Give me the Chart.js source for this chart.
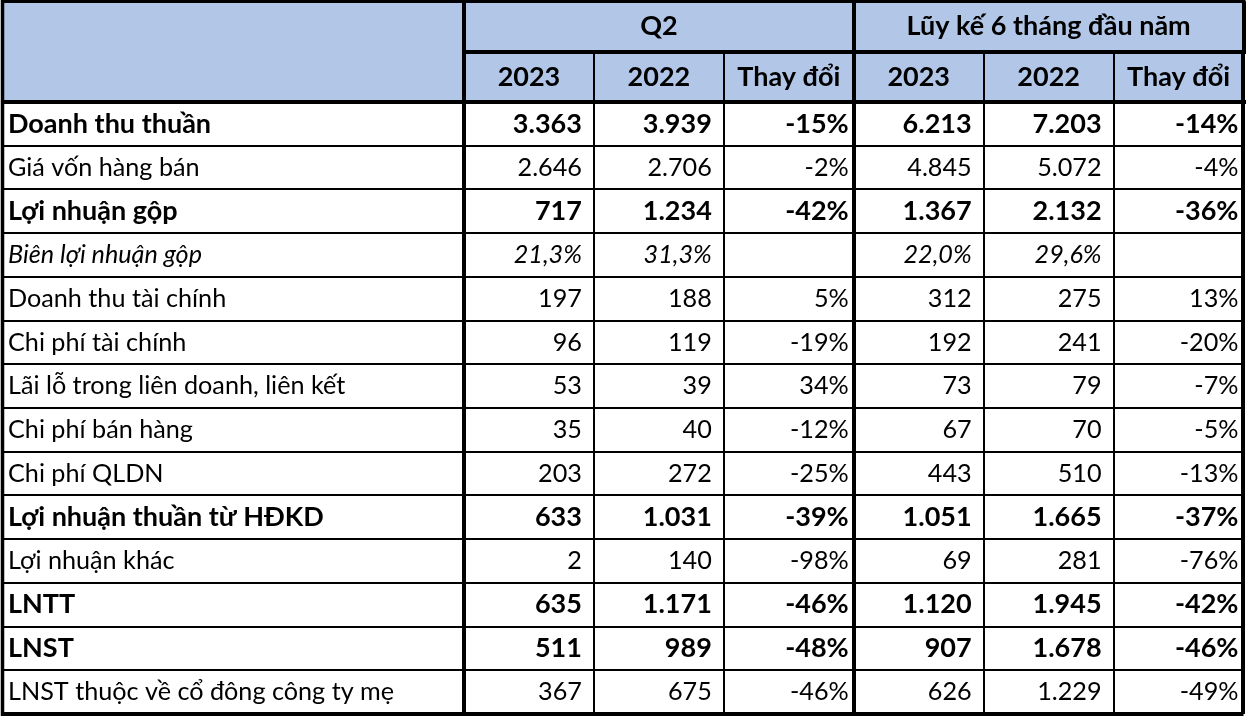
<!DOCTYPE html>
<html>
<head>
<meta charset="utf-8">
<script src="https://cdn.jsdelivr.net/npm/chart.js@4.4.0/dist/chart.umd.min.js"></script>
<style>
  html, body { margin: 0; padding: 0; background: #fff; overflow: hidden; }
  canvas { display: block; }
</style>
</head>
<body>
<canvas id="chart" width="1248" height="718"></canvas>
<script>
const rowLabels = [
    'Doanh thu thuần',
    'Giá vốn hàng bán',
    'Lợi nhuận gộp',
    'Biên lợi nhuận gộp',
    'Doanh thu tài chính',
    'Chi phí tài chính',
    'Lãi lỗ trong liên doanh, liên kết',
    'Chi phí bán hàng',
    'Chi phí QLDN',
    'Lợi nhuận thuần từ HĐKD',
    'Lợi nhuận khác',
    'LNTT',
    'LNST',
    'LNST thuộc về cổ đông công ty mẹ'
];
const boldRows = [0, 2, 9, 11, 12];
const marginRow = 3;

const groupLabels = ['Q2', 'Lũy kế 6 tháng đầu năm'];
const columnLabels = ['2023', '2022', 'Thay đổi', '2023', '2022', 'Thay đổi'];

// tỷ đồng; the margin row is in %
const q2Y2023 = [3363, 2646, 717, 21.3, 197, 96, 53, 35, 203, 633, 2, 635, 511, 367];
const q2Y2022 = [3939, 2706, 1234, 31.3, 188, 119, 39, 40, 272, 1031, 140, 1171, 989, 675];
const q2Change = [-15, -2, -42, null, 5, -19, 34, -12, -25, -39, -98, -46, -48, -46];
const ytdY2023 = [6213, 4845, 1367, 22.0, 312, 192, 73, 67, 443, 1051, 69, 1120, 907, 626];
const ytdY2022 = [7203, 5072, 2132, 29.6, 275, 241, 79, 70, 510, 1665, 281, 1945, 1678, 1229];
const ytdChange = [-14, -4, -36, null, 13, -20, -7, -5, -13, -37, -76, -42, -46, -49];

const columns = [q2Y2023, q2Y2022, q2Change, ytdY2023, ytdY2022, ytdChange];
const changeColumns = [2, 5];

const FONT = 'Lato';
const SIZE = 25.2;
const BOLD_SIZE = 27;
const headerBlue = '#B2C7E8';
const THICK = 4;
const THIN = 2;

function cellFont(r) {
    const bold = boldRows.includes(r);
    const style = r === marginRow ? 'italic ' : '';
    return style + (bold ? 'bold ' + BOLD_SIZE : SIZE) + 'px ' + FONT;
}

function formatCell(v, r, c) {
    if (changeColumns.includes(c)) return v + '%';
    if (r === marginRow) return v.toFixed(1).replace('.', ',') + '%';
    return String(v).replace(/\B(?=(\d{3})+(?!\d))/g, '.');
}

const thickOr = (thickIdx) => (ctx) =>
    (ctx.type !== 'tick' || thickIdx.includes(ctx.index)) ? THICK : THIN;

// fixed axis sizes, no label overflow padding
const fixSize = (w, h) => (s) => {
    if (w) s.width = w;
    if (h) s.height = h;
    s.paddingTop = 0;
    s.paddingBottom = 0;
    s.paddingLeft = 0;
    s.paddingRight = 0;
};

const tableCells = {
    id: 'tableCells',
    beforeDraw(chart) {
        const {ctx, chartArea, scales: {x2, y}} = chart;
        ctx.save();
        ctx.fillStyle = '#fff';
        ctx.fillRect(0, 0, chart.width, chart.height);
        ctx.fillStyle = headerBlue;
        ctx.fillRect(y.left - 6, x2.top - 1, chartArea.right - y.left + 6, chartArea.top - x2.top + 1);
        ctx.restore();
    },
    afterDatasetsDraw(chart) {
        const {ctx, scales: {x}} = chart;
        const half = (x.getPixelForValue(1) - x.getPixelForValue(0)) / 2;
        ctx.save();
        ctx.fillStyle = '#000';
        ctx.textAlign = 'right';
        ctx.textBaseline = 'middle';
        chart.data.datasets.forEach((ds, c) => {
            const pad = changeColumns.includes(c) ? 5 : 12;
            chart.getDatasetMeta(c).data.forEach((pt, r) => {
                const v = columns[c][r];
                if (v === null) return;
                ctx.font = cellFont(r);
                ctx.fillText(formatCell(v, r, c), pt.x + half - pad, pt.y);
            });
        });
        ctx.restore();
    },
    afterDraw(chart) {
        const {ctx, chartArea, scales: {x2, y}} = chart;
        ctx.save();
        ctx.strokeStyle = '#000';
        ctx.lineWidth = 3.5;
        ctx.beginPath();
        ctx.moveTo(y.left - 5.5, chartArea.bottom + 2);
        ctx.lineTo(y.left - 5.5, x2.top);
        ctx.lineTo(chartArea.right + 2, x2.top);
        ctx.stroke();
        ctx.restore();
    }
};

const chart = document.getElementById('chart');

new Chart(chart, {
    type: 'line',
    data: {
        datasets: columns.map((col, c) => ({
            label: columnLabels[c],
            parsing: false,
            data: rowLabels.map((row, r) => ({x: c, y: r})),
            showLine: false,
            pointRadius: 0,
            pointHoverRadius: 0
        }))
    },
    options: {
        responsive: false,
        maintainAspectRatio: false,
        devicePixelRatio: 1,
        animation: false,
        events: [],
        layout: {padding: {left: 8, right: 4.5, top: 1.3, bottom: 4}},
        plugins: {legend: {display: false}, tooltip: {enabled: false}},
        scales: {
            x: {
                type: 'category',
                labels: columnLabels,
                position: 'top',
                weight: 0,
                offset: true,
                afterFit: fixSize(0, 50),
                border: {display: true, width: THICK, color: '#000'},
                grid: {offset: true, color: '#000', lineWidth: thickOr([0, 3]), tickLength: 50},
                ticks: {
                    autoSkip: false, maxRotation: 0, padding: -41.2, color: '#000',
                    font: {family: FONT, size: BOLD_SIZE, weight: 'bold'}
                }
            },
            x2: {
                type: 'category',
                labels: groupLabels,
                position: 'top',
                weight: 1,
                offset: true,
                afterFit: fixSize(0, 50.7),
                border: {display: true, width: THICK, color: '#000'},
                grid: {offset: true, drawOnChartArea: false, color: '#000', lineWidth: THICK, tickLength: 50.7},
                ticks: {
                    autoSkip: false, maxRotation: 0, padding: -41.5, color: '#000',
                    font: {family: FONT, size: BOLD_SIZE, weight: 'bold'}
                }
            },
            y: {
                type: 'category',
                labels: rowLabels,
                position: 'left',
                offset: true,
                afterFit: fixSize(456, 0),
                border: {display: true, width: THICK, color: '#000'},
                grid: {offset: true, color: '#000', lineWidth: thickOr([0]), tickLength: 462},
                ticks: {
                    autoSkip: false, crossAlign: 'far', color: '#000',
                    font: (ctx) => ({
                        family: FONT,
                        size: boldRows.includes(ctx.index) ? BOLD_SIZE : SIZE,
                        weight: boldRows.includes(ctx.index) ? 'bold' : 'normal',
                        style: ctx.index === marginRow ? 'italic' : 'normal'
                    })
                }
            }
        }
    },
    plugins: [tableCells]
});
</script>
</body>
</html>
